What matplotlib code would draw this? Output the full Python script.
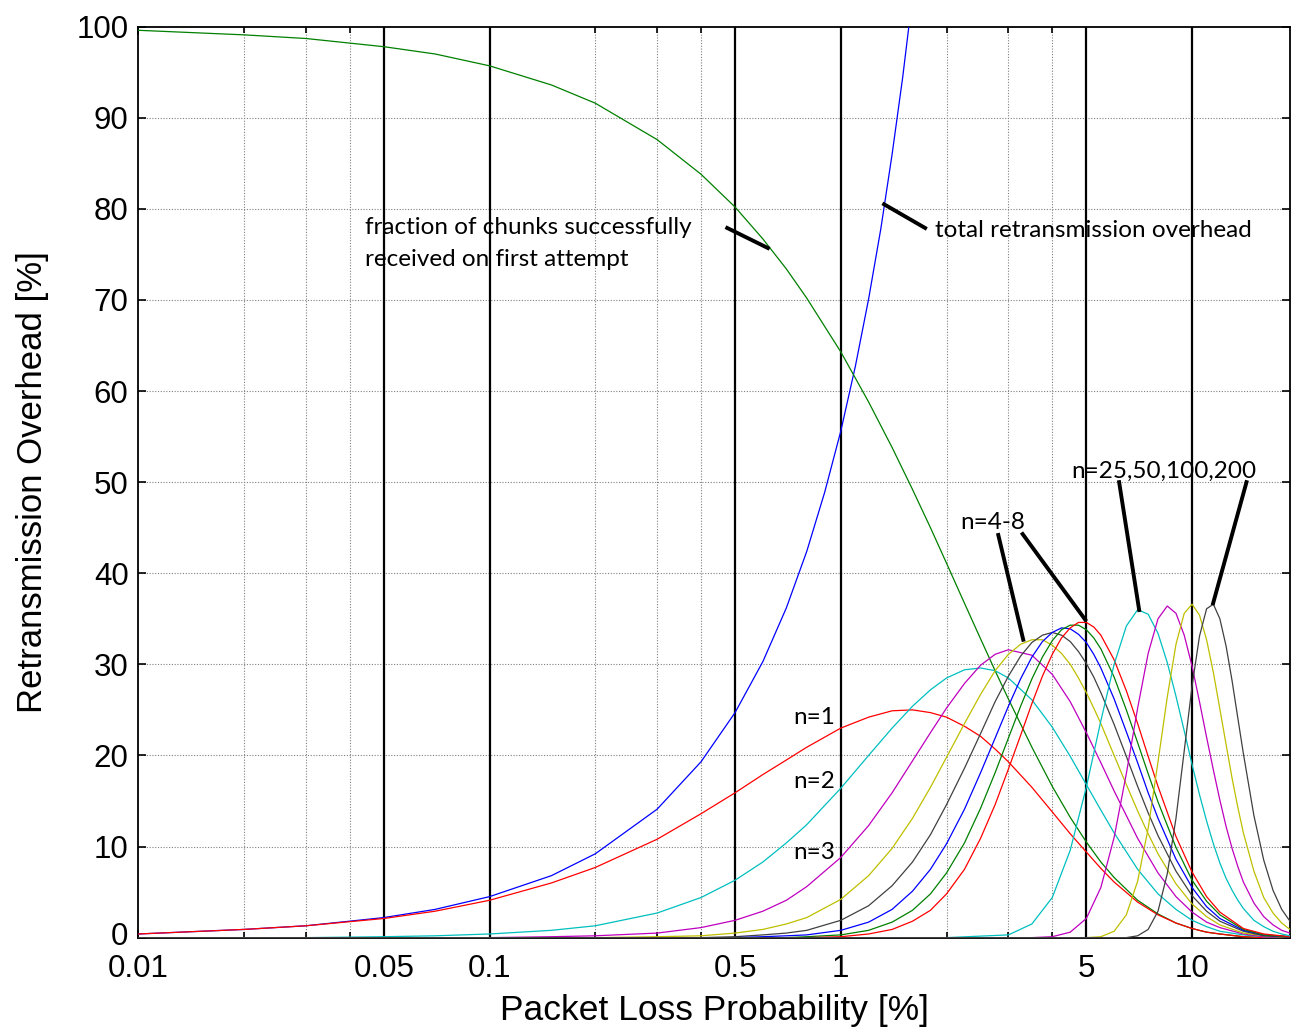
import matplotlib
matplotlib.use("Agg")
import matplotlib.pyplot as plt
from matplotlib.transforms import ScaledTranslation

# packet loss probability grids [%]
p_low = [0.01, 0.02, 0.03, 0.05, 0.07, 0.1, 0.15, 0.2, 0.3, 0.4, 0.5, 0.6, 0.7, 0.8, 1.0, 1.2, 1.4, 1.6,
         1.8, 2.0, 2.25, 2.5, 2.75, 3.0, 3.5, 4.0, 4.5, 5.0, 5.5, 6, 7, 8, 9, 10, 11, 12, 14, 16, 19]
p_blue = [0.01, 0.02, 0.03, 0.05, 0.07, 0.1, 0.15, 0.2, 0.3, 0.4, 0.5, 0.6, 0.7, 0.8, 0.9, 1.0, 1.1, 1.2,
          1.3, 1.4, 1.5, 1.6]
p_mid = [0.01, 0.1, 0.2, 0.3, 0.4, 0.5, 0.6, 0.7, 0.8, 1.0, 1.2, 1.4, 1.6, 1.8, 2.0, 2.25, 2.5, 2.75, 3.0,
         3.25, 3.5, 3.75, 4.0, 4.25, 4.5, 4.75, 5.0, 5.25, 5.5, 6, 6.5, 7, 7.5, 8, 9, 10, 11, 12, 14, 16, 19]
p_high = [0.01, 2.0, 3.0, 3.5, 4.0, 4.5, 5.0, 5.5, 6.0, 6.5, 7.0, 7.5, 8.0, 8.5, 9.0, 9.5, 10.0, 10.5, 11.0,
          11.5, 12.0, 12.5, 13.0, 13.5, 14.0, 15, 16, 17, 18, 19]

# fraction of chunks received on first attempt [%]
first_ok = [99.6, 99.1, 98.7, 97.8, 97.0, 95.7, 93.6, 91.6, 87.6, 83.8, 80.2, 76.7, 73.4, 70.2, 64.3, 58.8,
            53.8, 49.2, 45.0, 41.1, 36.7, 32.8, 29.3, 26.2, 20.9, 16.6, 13.2, 10.5, 8.3, 6.6, 4.1, 2.6, 1.6,
            1.0, 0.6, 0.4, 0.1, 0.0, 0.0]
# total retransmission overhead [%]
total_oh = [0.4, 0.9, 1.3, 2.2, 3.1, 4.5, 6.8, 9.2, 14.1, 19.3, 24.7, 30.3, 36.2, 42.4, 48.9, 55.6, 62.7,
            70.1, 77.8, 86.0, 94.4, 103.3]

n1 = [0.4, 0.9, 1.3, 2.1, 2.9, 4.1, 6.0, 7.7, 10.8, 13.6, 15.9, 17.9, 19.5, 20.9, 23.0, 24.2, 24.9, 25.0,
      24.7, 24.2, 23.2, 22.1, 20.7, 19.3, 16.5, 13.8, 11.4, 9.4, 7.6, 6.1, 3.9, 2.5, 1.6, 1.0, 0.6, 0.4,
      0.1, 0.0, 0.0]
n2 = [0.0, 0.0, 0.0, 0.1, 0.2, 0.4, 0.8, 1.3, 2.7, 4.4, 6.3, 8.3, 10.4, 12.4, 16.4, 20.0, 23.0, 25.4, 27.2,
      28.5, 29.4, 29.6, 29.3, 28.5, 26.1, 23.1, 19.9, 16.8, 14.0, 11.5, 7.5, 4.8, 3.1, 1.9, 1.2, 0.7, 0.3,
      0.1, 0.0]
n3 = [0.0, 0.0, 0.0, 0.0, 0.0, 0.0, 0.1, 0.2, 0.5, 1.1, 1.9, 2.9, 4.1, 5.6, 8.8, 12.3, 15.9, 19.4, 22.5,
      25.2, 27.9, 29.9, 31.1, 31.6, 31.0, 28.9, 25.9, 22.5, 19.2, 16.1, 10.9, 7.1, 4.5, 2.8, 1.7, 1.1, 0.4,
      0.1, 0.0]
n4 = [0.0, 0.0, 0.0, 0.1, 0.2, 0.5, 0.9, 1.5, 2.2, 4.2, 6.8, 9.8, 13.1, 16.5, 19.8, 23.5, 26.7, 29.3, 31.1,
      32.2, 32.7, 32.7, 32.1, 31.2, 30.0, 28.5, 26.9, 25.2, 23.5, 20.0, 16.8, 13.9, 11.4, 9.2, 5.9, 3.7,
      2.3, 1.4, 0.5, 0.2, 0.0]
n5 = [0.0, 0.0, 0.0, 0.0, 0.0, 0.1, 0.3, 0.5, 0.8, 1.9, 3.5, 5.7, 8.3, 11.3, 14.6, 18.6, 22.4, 25.9, 28.7,
      30.9, 32.4, 33.2, 33.5, 33.2, 32.5, 31.4, 30.1, 28.6, 26.9, 23.4, 19.9, 16.6, 13.7, 11.2, 7.3, 4.6,
      2.9, 1.8, 0.7, 0.2, 0.0]
n6 = [0.0, 0.0, 0.0, 0.0, 0.0, 0.0, 0.1, 0.2, 0.3, 0.8, 1.7, 3.1, 5.1, 7.5, 10.3, 14.1, 18.1, 21.9, 25.4,
      28.4, 30.8, 32.5, 33.5, 34.0, 33.9, 33.3, 32.4, 31.1, 29.6, 26.2, 22.6, 19.2, 15.9, 13.1, 8.6, 5.5,
      3.4, 2.1, 0.8, 0.3, 0.1]
n7 = [0.0, 0.0, 0.0, 0.0, 0.0, 0.0, 0.0, 0.0, 0.1, 0.3, 0.8, 1.7, 3.0, 4.8, 7.1, 10.4, 14.2, 18.1, 21.9,
      25.4, 28.4, 30.8, 32.6, 33.8, 34.3, 34.3, 33.8, 32.9, 31.7, 28.6, 25.0, 21.4, 18.0, 14.9, 9.9, 6.3,
      4.0, 2.5, 0.9, 0.3, 0.1]
n8 = [0.0, 0.0, 0.0, 0.0, 0.0, 0.0, 0.0, 0.0, 0.0, 0.1, 0.4, 0.9, 1.8, 3.0, 4.8, 7.5, 10.9, 14.6, 18.5,
      22.2, 25.7, 28.7, 31.1, 32.9, 34.0, 34.6, 34.6, 34.1, 33.2, 30.5, 27.1, 23.5, 19.9, 16.6, 11.1, 7.2,
      4.5, 2.8, 1.0, 0.4, 0.1]
n25 = [0.0, 0.0, 0.3, 1.5, 4.4, 9.6, 16.5, 23.8, 30.0, 34.2, 36.0, 35.5, 33.4, 30.2, 26.5, 22.7, 19.0, 15.7,
       12.8, 10.3, 8.2, 6.5, 5.2, 4.1, 3.2, 1.9, 1.2, 0.7, 0.4, 0.2]
n50 = [0.0, 0.0, 0.0, 0.0, 0.1, 0.6, 2.1, 5.5, 11.0, 18.0, 25.2, 31.2, 35.0, 36.4, 35.6, 33.2, 29.8, 25.9,
       22.0, 18.4, 15.1, 12.2, 9.8, 7.8, 6.1, 3.8, 2.3, 1.4, 0.8, 0.5]
n100 = [0.0, 0.0, 0.0, 0.0, 0.0, 0.0, 0.0, 0.1, 0.7, 2.5, 6.2, 12.0, 19.3, 26.4, 32.2, 35.6, 36.6, 35.4,
        32.7, 29.1, 25.1, 21.2, 17.5, 14.3, 11.5, 7.3, 4.4, 2.7, 1.6, 0.9]
n200 = [0.0, 0.0, 0.0, 0.0, 0.0, 0.0, 0.0, 0.0, 0.0, 0.0, 0.2, 0.9, 2.9, 7.0, 13.1, 20.5, 27.6, 33.1, 36.1,
        36.6, 35.0, 32.0, 28.2, 24.1, 20.2, 13.4, 8.5, 5.2, 3.1, 1.8]

# old MATLAB colour order
B, G, R = (0, 0, 1), (0, 0.5, 0), (1, 0, 0)
C, M, Y, K = (0, 0.75, 0.75), (0.75, 0, 0.75), (0.75, 0.75, 0), (0.25, 0.25, 0.25)

plt.rcParams["font.family"] = ["Liberation Sans", "DejaVu Sans"]
ANNOT = "Lato"

fig = plt.figure(figsize=(12.91, 10.29), dpi=100)
ax = fig.add_axes([0.1071, 0.0888, 0.8921, 0.8853])
ax.set_xscale("log")

# grid: dotted minors + horizontals, solid black at labelled decades
for x in [0.02, 0.03, 0.04, 0.2, 0.3, 0.4, 2, 3, 4]:
    ax.axvline(x, color="0.5", ls=(0, (1, 1.5)), lw=0.8, zorder=1)
for y in range(10, 100, 10):
    ax.axhline(y, color="0.5", ls=(0, (1, 1.5)), lw=0.8, zorder=1)
for x in [0.05, 0.1, 0.5, 1, 5, 10]:
    ax.axvline(x, color="black", lw=1.6, zorder=1)

lw = 0.9
ax.plot(p_blue, total_oh, color=B, lw=lw, zorder=3)
ax.plot(p_low, first_ok, color=G, lw=lw, zorder=3)
for vals, col in [(n1, R), (n2, C), (n3, M)]:
    ax.plot(p_low, vals, color=col, lw=lw, zorder=3)
for vals, col in [(n4, Y), (n5, K), (n6, B), (n7, G), (n8, R)]:
    ax.plot(p_mid, vals, color=col, lw=lw, zorder=3)
for vals, col in [(n25, C), (n50, M), (n100, Y), (n200, K)]:
    ax.plot(p_high, vals, color=col, lw=lw, zorder=3)

ax.set_xlim(0.01, 19)
ax.set_ylim(0, 100)
ax.set_xticks([0.01, 0.05, 0.1, 0.5, 1, 5, 10])
ax.set_xticklabels(["0.01", "0.05", "0.1", "0.5", "1", "5", "10"])
ax.set_xticks([0.02, 0.03, 0.04, 0.2, 0.3, 0.4, 2, 3, 4], minor=True)
ax.set_yticks(range(0, 101, 10))
ax.tick_params(which="both", direction="in", top=True, right=True, labelsize=22.5,
               length=6, width=1.2, pad=7)
ax.tick_params(axis="x", which="both", pad=12)
ax.tick_params(which="minor", length=4)
for sp in ax.spines.values():
    sp.set_linewidth(1.3)

# lift the "0" label a touch so it clears "0.01"
lab0 = ax.get_yticklabels()[0]
lab0.set_transform(lab0.get_transform() + ScaledTranslation(0, 3 / 72, fig.dpi_scale_trans))

ax.set_xlabel("Packet Loss Probability [%]", fontsize=25.5, labelpad=7)
ax.set_ylabel("Retransmission Overhead [%]", fontsize=25, labelpad=20)

# annotations
tk = dict(family=ANNOT, fontsize=17.5, color="black", zorder=5)
ax.text(0.0443, 77.9, "fraction of chunks successfully", va="center", ha="left", **tk)
ax.text(0.0443, 74.4, "received on first attempt", va="center", ha="left", **tk)
ax.plot([0.475, 0.62], [77.9, 75.7], color="black", lw=2.8, zorder=5)

ax.text(1.855, 77.6, "total retransmission overhead", va="center", ha="left", **tk)
ax.plot([1.328, 1.738], [80.5, 77.9], color="black", lw=2.8, zorder=5)

for lab, yv in [("n=1", 24.2), ("n=2", 17.1), ("n=3", 9.35)]:
    ax.text(0.963, yv, lab, va="center", ha="right", **tk)

ax.text(2.185, 45.6, "n=4-8", va="center", ha="left", **tk)
ax.plot([2.808, 3.307], [44.2, 32.7], color="black", lw=2.8, zorder=5)
ax.plot([3.294, 4.965], [44.3, 34.9], color="black", lw=2.8, zorder=5)

ax.text(4.54, 51.2, "n=25,50,100,200", va="center", ha="left", **tk)
ax.plot([6.20, 7.07], [50.0, 35.96], color="black", lw=2.8, zorder=5)
ax.plot([14.29, 11.48], [50.0, 36.7], color="black", lw=2.8, zorder=5)

fig.savefig("out.png", dpi=100)
